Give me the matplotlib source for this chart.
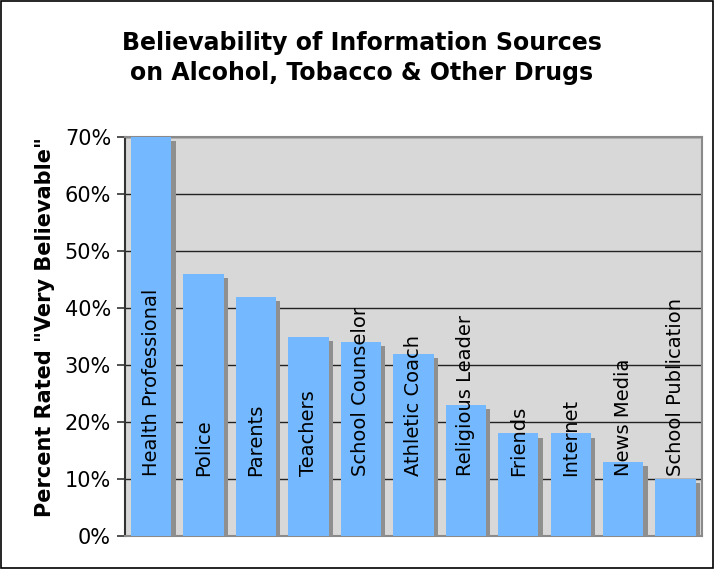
import numpy as np
import matplotlib.pyplot as plt
import matplotlib.patheffects as pe
from matplotlib.patches import Rectangle

sources = ["Health Professional", "Police", "Parents", "Teachers",
           "School Counselor", "Athletic Coach", "Religious Leader",
           "Friends", "Internet", "News Media", "School Publication"]
percent = [70, 46, 42, 35, 34, 32, 23, 18, 18, 13, 10]
yticks = [0, 10, 20, 30, 40, 50, 60, 70]

fig = plt.figure(figsize=(7.14, 5.69), dpi=100)
ax = fig.add_axes([0.175, 0.058, 0.808, 0.701])
ax.set_facecolor("#d8d8d8")

x = np.arange(len(sources))
bars = ax.bar(x, percent, width=0.77, color="#74b9ff", zorder=3)
for b in bars:
    b.set_path_effects([pe.SimplePatchShadow(offset=(3, -3), shadow_rgbFace="#8f8f8f", alpha=1.0),
                        pe.Normal()])

for xi, name in zip(x, sources):
    ax.text(xi, 10.5, name, rotation=90, ha="center", va="bottom",
            fontsize=14, color="black", zorder=5)

ax.set_xlim(-0.5, len(sources) - 0.5)
ax.set_ylim(0, 70)
ax.set_yticks(yticks)
ax.set_yticklabels(["%d%%" % v for v in yticks], fontsize=15)
ax.set_xticks([])
ax.yaxis.grid(True, color="#222222", linewidth=1.0, zorder=1)
ax.set_axisbelow(True)
ax.tick_params(axis="y", length=6, width=1.2, color="#333333", pad=4)
ax.spines["left"].set_color("#333333")
ax.spines["left"].set_linewidth(1.5)
for s in ["top", "right", "bottom"]:
    ax.spines[s].set_color("#8a8a8a")
    ax.spines[s].set_linewidth(1.5)

ax.set_ylabel('Percent Rated "Very Believable"', fontsize=15, fontweight="bold", labelpad=6)
ax.yaxis.set_label_coords(-0.121, 0.525)

fig.text(0.507, 0.898, "Believability of Information Sources\non Alcohol, Tobacco & Other Drugs",
         ha="center", va="center", fontsize=17, fontweight="bold", linespacing=1.35)

fig.patches.append(Rectangle((0.001, 0.001), 0.997, 0.997, transform=fig.transFigure,
                             fill=False, edgecolor="black", linewidth=1.2))

plt.savefig("out.png", dpi=100)
